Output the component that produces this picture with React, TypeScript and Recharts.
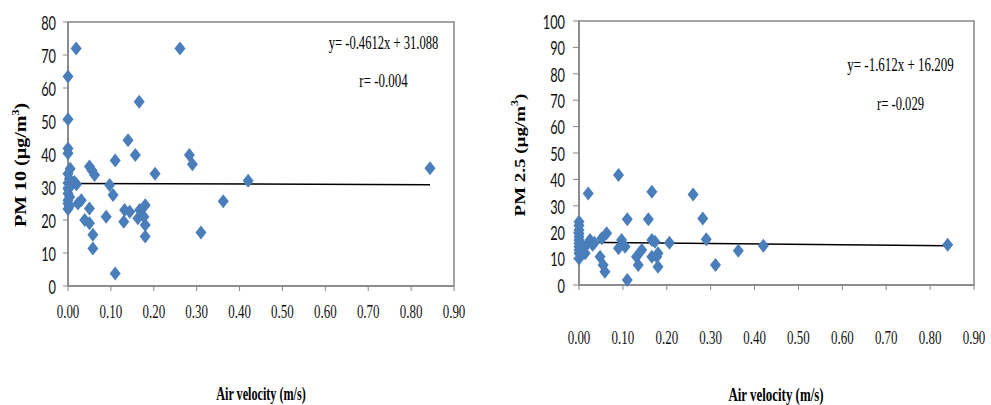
import React from 'react';
import { ScatterChart, Scatter, XAxis, YAxis, ReferenceLine, ReferenceArea } from 'recharts';

// Axis ticks
const velocityTicks = [0, 0.1, 0.2, 0.3, 0.4, 0.5, 0.6, 0.7, 0.8, 0.9];
const pm10Ticks = [0, 10, 20, 30, 40, 50, 60, 70, 80];
const pm25Ticks = [0, 10, 20, 30, 40, 50, 60, 70, 80, 90, 100];

// PM10 vs air velocity (m/s, µg/m³)
const pm10Points = [
  { x: 0, y: 63.5 }, { x: 0, y: 50.5 }, { x: 0, y: 41.7 }, { x: 0, y: 40.2 },
  { x: 0.005, y: 35.5 }, { x: 0, y: 34 }, { x: 0.003, y: 32.5 }, { x: 0, y: 31.2 },
  { x: 0.008, y: 30.5 }, { x: 0, y: 29.5 }, { x: 0, y: 28 }, { x: 0.004, y: 27 },
  { x: 0, y: 26 }, { x: 0, y: 25 }, { x: 0.003, y: 24.2 }, { x: 0, y: 23.3 },
  { x: 0.015, y: 31.5 }, { x: 0.02, y: 30.8 }, { x: 0.019, y: 72 },
  { x: 0.023, y: 25 }, { x: 0.031, y: 26 },
  { x: 0.05, y: 36.2 }, { x: 0.056, y: 35 }, { x: 0.062, y: 33.6 },
  { x: 0.05, y: 23.5 }, { x: 0.039, y: 20 }, { x: 0.05, y: 19 },
  { x: 0.058, y: 15.5 }, { x: 0.058, y: 11.4 },
  { x: 0.089, y: 21 }, { x: 0.097, y: 30.6 }, { x: 0.105, y: 27.6 },
  { x: 0.11, y: 38 }, { x: 0.11, y: 3.8 },
  { x: 0.132, y: 23 }, { x: 0.13, y: 19.5 }, { x: 0.14, y: 44.2 }, { x: 0.144, y: 22.5 },
  { x: 0.157, y: 39.7 }, { x: 0.163, y: 20.5 }, { x: 0.167, y: 23 }, { x: 0.166, y: 55.8 },
  { x: 0.18, y: 24.5 }, { x: 0.177, y: 21 }, { x: 0.18, y: 18.5 }, { x: 0.18, y: 15 },
  { x: 0.203, y: 34 }, { x: 0.261, y: 72 }, { x: 0.283, y: 39.7 }, { x: 0.29, y: 36.9 },
  { x: 0.31, y: 16.2 }, { x: 0.362, y: 25.7 }, { x: 0.42, y: 31.9 }, { x: 0.844, y: 35.7 },
];

// PM2.5 vs air velocity (m/s, µg/m³)
const pm25Points = [
  { x: 0, y: 24 }, { x: 0, y: 22.5 }, { x: 0, y: 20.8 }, { x: 0, y: 19.5 },
  { x: 0, y: 18.3 }, { x: 0, y: 17 }, { x: 0, y: 15.8 }, { x: 0, y: 14.5 },
  { x: 0, y: 13.3 }, { x: 0, y: 12 }, { x: 0, y: 10 },
  { x: 0.014, y: 14.5 }, { x: 0.014, y: 12 }, { x: 0.021, y: 34.7 }, { x: 0.025, y: 17 },
  { x: 0.031, y: 15.2 }, { x: 0.035, y: 16 },
  { x: 0.048, y: 10.7 }, { x: 0.055, y: 7.6 }, { x: 0.059, y: 5 },
  { x: 0.063, y: 19.6 }, { x: 0.052, y: 17.7 },
  { x: 0.09, y: 41.7 }, { x: 0.09, y: 13.9 }, { x: 0.097, y: 17 }, { x: 0.105, y: 14.5 },
  { x: 0.11, y: 24.9 }, { x: 0.11, y: 1.9 },
  { x: 0.131, y: 10.7 }, { x: 0.135, y: 7.6 }, { x: 0.143, y: 13.3 },
  { x: 0.158, y: 24.9 }, { x: 0.166, y: 35.3 }, { x: 0.166, y: 17 }, { x: 0.166, y: 10.7 },
  { x: 0.173, y: 16.4 }, { x: 0.177, y: 10.7 }, { x: 0.18, y: 6.9 }, { x: 0.18, y: 12 },
  { x: 0.206, y: 16 }, { x: 0.26, y: 34.3 }, { x: 0.282, y: 25.2 }, { x: 0.29, y: 17.3 },
  { x: 0.311, y: 7.6 }, { x: 0.363, y: 13 }, { x: 0.42, y: 14.9 }, { x: 0.84, y: 15.2 },
];

// Linear fits shown on each panel
const pm10Fit = { slope: -0.4612, intercept: 31.088, r: -0.004, xEnd: 0.844 };
const pm25Fit = { slope: -1.612, intercept: 16.209, r: -0.029, xEnd: 0.84 };

const MARK = '#4a7ebb';
const AXIS = '#868686';
const SERIF = '"Liberation Serif", "Times New Roman", serif';
const SANS = 'Lato, "Liberation Sans", sans-serif';

const Diamond = (props: any) => {
  const { cx, cy } = props;
  if (cx == null || cy == null) return null;
  return (
    <polygon
      points={`${cx},${cy - 7} ${cx + 5.5},${cy} ${cx},${cy + 7} ${cx - 5.5},${cy}`}
      fill={MARK}
    />
  );
};

const makeXTick = (dy: number) => (props: any) => {
  const { x, y, payload } = props;
  return (
    <g transform={`translate(${x},${y + dy})`}>
      <text
        transform="scale(0.72,1)"
        textAnchor="middle"
        dominantBaseline="central"
        fontFamily={SERIF}
        fontSize={18}
        fill="#111"
      >
        {Number(payload.value).toFixed(2)}
      </text>
    </g>
  );
};

const makeYTick = (dx: number) => (props: any) => {
  const { x, y, payload } = props;
  return (
    <g transform={`translate(${x + dx},${y})`}>
      <text
        transform="scale(0.64,1)"
        textAnchor="end"
        dominantBaseline="central"
        fontFamily={SANS}
        fontSize={20}
        fill="#111"
      >
        {payload.value}
      </text>
    </g>
  );
};

const fitSegment = (fit: { slope: number; intercept: number; xEnd: number }) => [
  { x: 0, y: fit.intercept },
  { x: fit.xEnd, y: fit.intercept + fit.slope * fit.xEnd },
];

const fmtEq = (fit: { slope: number; intercept: number }) =>
  `y= ${fit.slope}x + ${fit.intercept}`;

// Narrow serif annotation, centred on (x, y)
const Note = ({ x, y, sx, children, size = 18, bold = false }: any) => (
  <g transform={`translate(${x},${y}) scale(${sx},1)`}>
    <text
      x={0}
      y={0}
      fontSize={size}
      fontWeight={bold ? 'bold' : 'normal'}
      textAnchor="middle"
      dominantBaseline="central"
    >
      {children}
    </text>
  </g>
);

export default function App() {
  return (
    <div
      style={{
        position: 'absolute',
        left: 0,
        top: 0,
        width: 991,
        height: 405,
        background: '#fff',
        overflow: 'hidden',
      }}
    >
      {/* PM10 panel */}
      <div style={{ position: 'absolute', left: 0, top: 0 }}>
        <ScatterChart width={480} height={405} margin={{ top: 22, right: 26, bottom: 0, left: 0 }}>
          <XAxis
            type="number"
            dataKey="x"
            domain={[0, 0.9]}
            ticks={velocityTicks}
            height={119}
            tickSize={5}
            axisLine={{ stroke: AXIS, strokeWidth: 1.5 }}
            tickLine={{ stroke: AXIS }}
            tick={makeXTick(19)}
            interval={0}
          />
          <YAxis
            type="number"
            dataKey="y"
            domain={[0, 80]}
            ticks={pm10Ticks}
            width={68}
            tickSize={5}
            axisLine={{ stroke: AXIS, strokeWidth: 1.5 }}
            tickLine={{ stroke: AXIS }}
            tick={makeYTick(-5)}
            interval={0}
          />
          <ReferenceArea x1={0} x2={0.9} y1={0} y2={80} fill="none" stroke={AXIS} strokeWidth={1.5} />
          <Scatter data={pm10Points} shape={Diamond} isAnimationActive={false} />
          <ReferenceLine segment={fitSegment(pm10Fit)} stroke="#000" strokeWidth={1.5} />
        </ScatterChart>
      </div>

      {/* PM2.5 panel */}
      <div style={{ position: 'absolute', left: 480, top: 0 }}>
        <ScatterChart width={511} height={405} margin={{ top: 21, right: 17, bottom: 0, left: 0 }}>
          <XAxis
            type="number"
            dataKey="x"
            domain={[0, 0.9]}
            ticks={velocityTicks}
            height={120}
            tickSize={5}
            axisLine={{ stroke: AXIS, strokeWidth: 1.5 }}
            tickLine={{ stroke: AXIS }}
            tick={makeXTick(46)}
            interval={0}
          />
          <YAxis
            type="number"
            dataKey="y"
            domain={[0, 100]}
            ticks={pm25Ticks}
            width={99}
            tickSize={6}
            axisLine={{ stroke: AXIS, strokeWidth: 1.5 }}
            tickLine={{ stroke: AXIS }}
            tick={makeYTick(-6)}
            interval={0}
          />
          <ReferenceArea x1={0} x2={0.9} y1={0} y2={100} fill="none" stroke={AXIS} strokeWidth={1.5} />
          <Scatter data={pm25Points} shape={Diamond} isAnimationActive={false} />
          <ReferenceLine segment={fitSegment(pm25Fit)} stroke="#000" strokeWidth={1.5} />
        </ScatterChart>
      </div>

      {/* Titles and fit annotations */}
      <svg
        width={991}
        height={405}
        style={{ position: 'absolute', left: 0, top: 0, pointerEvents: 'none' }}
      >
        <g fontFamily={SERIF} fill="#000">
          <Note x={383.5} y={43} sx={0.7}>{fmtEq(pm10Fit)}</Note>
          <Note x={383.5} y={81} sx={0.72}>{`r= ${pm10Fit.r}`}</Note>
          <Note x={900.5} y={65} sx={0.72}>{fmtEq(pm25Fit)}</Note>
          <Note x={900.5} y={104} sx={0.7}>{`r= ${pm25Fit.r}`}</Note>

          <Note x={261} y={393} sx={0.64} size={19} bold>Air velocity (m/s)</Note>
          <Note x={776} y={395} sx={0.68} size={19} bold>Air velocity (m/s)</Note>

          <g transform="translate(21,165) rotate(-90) scale(1,0.8)">
            <text x={0} y={0} fontSize={20} fontWeight="bold" textAnchor="middle" dominantBaseline="central">
              PM 10  (µg/m<tspan fontSize={12} dy={-7}>3</tspan><tspan dy={7}>)</tspan>
            </text>
          </g>
          <g transform="translate(520,155) rotate(-90) scale(1,0.8)">
            <text x={0} y={0} fontSize={19} fontWeight="bold" textAnchor="middle" dominantBaseline="central">
              PM 2.5 (µg/m<tspan fontSize={12} dy={-7}>3</tspan><tspan dy={7}>)</tspan>
            </text>
          </g>
        </g>
      </svg>
    </div>
  );
}
